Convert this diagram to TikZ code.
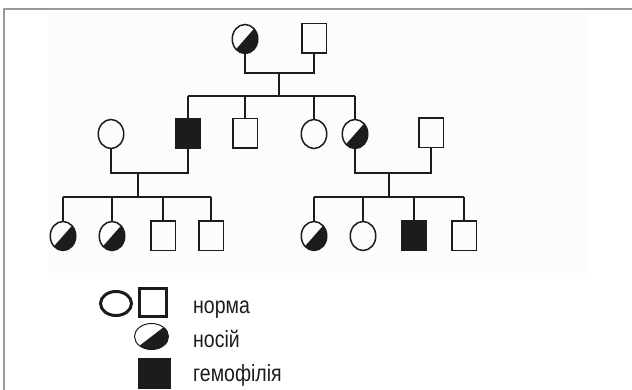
\documentclass[tikz,border=0pt]{standalone}
\usepackage{fontspec}
\setmainfont{Liberation Sans}
\usetikzlibrary{shapes.geometric}
\definecolor{framegray}{HTML}{9A9A9A}
\definecolor{ink}{HTML}{1C1C1C}
\definecolor{panel}{HTML}{FCFCFC}
\tikzset{
  pf/.style={ellipse, draw=ink, minimum width=25.5pt, minimum height=29pt, inner sep=0pt, line width=1.5pt},
  pm/.style={rectangle, draw=ink, minimum width=24.5pt, minimum height=29.5pt, inner sep=0pt, line width=1.5pt},
  aff/.style={fill=ink},
  car/.style={path picture={\fill[ink] (path picture bounding box.south west) -- (path picture bounding box.north east) -- (path picture bounding box.south east) -- cycle;}},
  link/.style={draw=ink, line width=1.5pt},
  legtext/.style={anchor=base west, inner sep=0pt, font=\fontsize{19.5}{22}\selectfont, text=ink},
}
\begin{document}
\begin{tikzpicture}[x=1pt,y=-1pt]
\useasboundingbox (0,0) rectangle (632,390);
\fill[white] (0,0) rectangle (632,390);
\fill[panel] (48,14) rectangle (588,273);
\draw[framegray, line width=2pt] (4,390) -- (4,9) -- (632,9);

% generation I
\node[pf, car] (g1f) at (245,39) {};
\node[pm] (g1m) at (314,38.5) {};
\coordinate (c1) at (279,73);
\coordinate (s1) at (279,96);

% generation II
\node[pf] (g2L) at (111,134) {};
\node[pm, aff] (g2a) at (188,133.5) {};
\node[pm] (g2b) at (245,133.5) {};
\node[pf] (g2c) at (314,134) {};
\node[pf, car] (g2d) at (355,134) {};
\node[pm] (g2R) at (431,133) {};
\coordinate (c2) at (138,173);
\coordinate (s2) at (138,197);
\coordinate (c3) at (389,173);
\coordinate (s3) at (389,197);

% generation III
\node[pf, car] (g3a) at (63,236) {};
\node[pf, car] (g3b) at (112,236) {};
\node[pm] (g3c) at (163,236) {};
\node[pm] (g3d) at (211,236) {};
\node[pf, car] (g3e) at (314,236) {};
\node[pf] (g3f) at (363,236) {};
\node[pm, aff] (g3g) at (414,236) {};
\node[pm] (g3h) at (464,236) {};

% connectors
\draw[link] (g1f) |- (c1) -| (g1m);
\draw[link] (c1) -- (s1);
\draw[link] (s1 -| g2a) -- (s1 -| g2d);
\foreach \n in {g2a,g2b,g2c,g2d} \draw[link] (s1 -| \n) -- (\n);

\draw[link] (g2L) |- (c2) -| (g2a);
\draw[link] (c2) -- (s2);
\draw[link] (s2 -| g3a) -- (s2 -| g3d);
\foreach \n in {g3a,g3b,g3c,g3d} \draw[link] (s2 -| \n) -- (\n);

\draw[link] (g2d) |- (c3) -| (g2R);
\draw[link] (c3) -- (s3);
\draw[link] (s3 -| g3e) -- (s3 -| g3h);
\foreach \n in {g3e,g3f,g3g,g3h} \draw[link] (s3 -| \n) -- (\n);

% legend
\node[ellipse, draw=ink, line width=3pt, minimum width=31pt, minimum height=24pt, inner sep=0pt] (lf) at (116,303.5) {};
\node[rectangle, draw=ink, line width=3pt, minimum width=27pt, minimum height=28pt, inner sep=0pt] (lm) at (153,302.5) {};
\node[ellipse, draw=ink, line width=1pt, minimum width=34pt, minimum height=26pt, inner sep=0pt, car] (lc) at (151.5,336.5) {};
\node[rectangle, fill=ink, minimum width=33pt, minimum height=31pt, inner sep=0pt] (la) at (154.5,373.5) {};
\node[legtext] (t1) at (193,313) {\scalebox{1}[1.2]{норма}};
\node[legtext] (t2) at (193,347) {\scalebox{1}[1.2]{носій}};
\node[legtext] (t3) at (193,381) {\scalebox{1}[1.2]{гемофілія}};
\end{tikzpicture}
\end{document}
